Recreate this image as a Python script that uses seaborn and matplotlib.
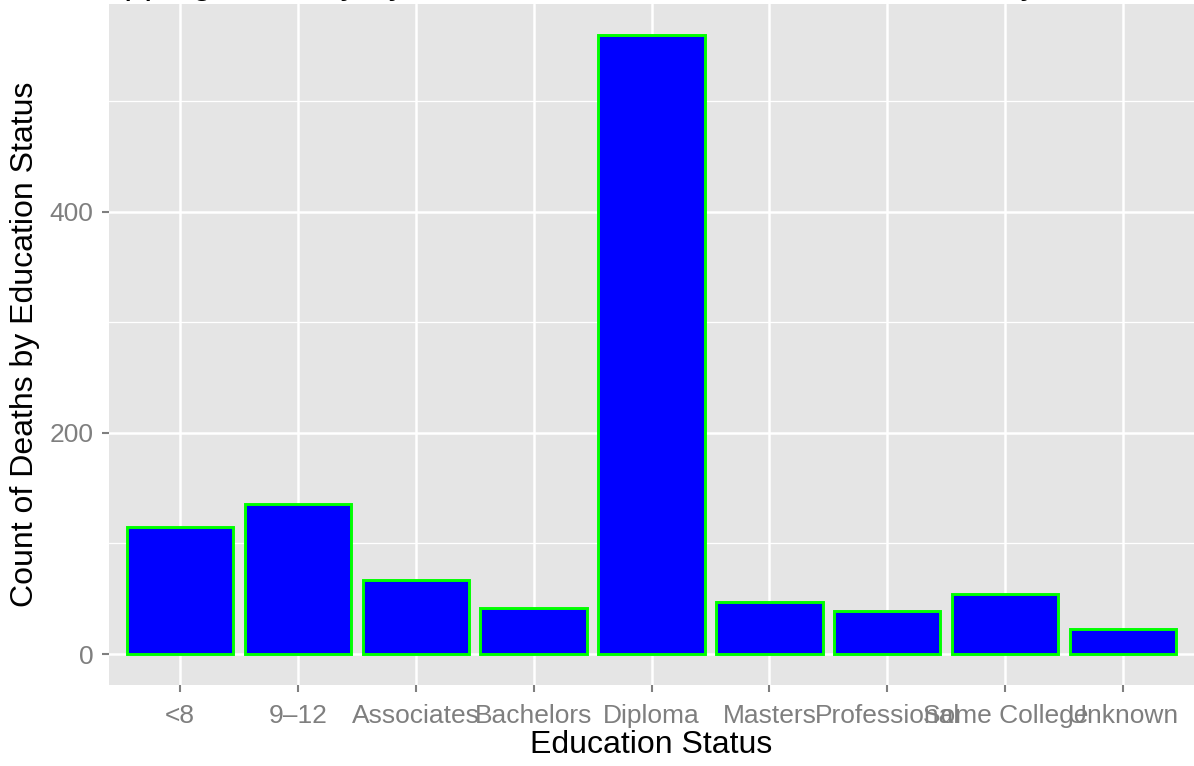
import numpy as np
import pandas as pd
import seaborn as sns
import matplotlib.pyplot as plt
from matplotlib.ticker import MultipleLocator

# counts
education = ["<8", "9\u201312", "Associates", "Bachelors", "Diploma",
             "Masters", "Professional", "Some College", "Unknown"]
deaths = [115, 136, 67, 42, 560, 47, 39, 54, 23]

title = "Mapping Mortality by Education Status: Overdose Deaths by Year"
xlabel = "Education Status"
ylabel = "Count of Deaths by Education Status"

df = pd.DataFrame({"education": education, "deaths": deaths})

sns.set_style("darkgrid")
plt.rcParams["font.family"] = ["Liberation Sans", "DejaVu Sans"]

fig = plt.figure(figsize=(11.94, 7.66), dpi=100)
ax = fig.add_axes([109 / 1194, 81 / 766, 1085 / 1194, 681 / 766])
ax.set_facecolor("#E5E5E5")

sns.barplot(data=df, x="education", y="deaths", order=education,
            color="#0000FF", saturation=1, edgecolor="#00FF00",
            linewidth=2.1, width=0.9, ax=ax, zorder=3)

ax.set_xlim(-0.6, len(education) - 0.4)
ax.set_ylim(-28, 588)
ax.yaxis.set_major_locator(MultipleLocator(200))
ax.yaxis.set_minor_locator(MultipleLocator(100))

ax.grid(which="major", color="white", linewidth=1.8, zorder=0)
ax.grid(which="minor", axis="y", color="white", linewidth=0.9, zorder=0)
ax.set_axisbelow(True)
for s in ax.spines.values():
    s.set_visible(False)

ax.tick_params(axis="both", which="major", length=5, width=1.5,
               color="#7F7F7F", labelcolor="#7F7F7F", labelsize=19,
               direction="out", bottom=True, left=True)
ax.tick_params(axis="x", which="major", pad=9)
ax.tick_params(axis="y", which="major", pad=6)
ax.tick_params(axis="both", which="minor", length=0)

ax.set_xlabel(xlabel, fontsize=23, color="black", labelpad=1)
ax.set_ylabel(ylabel, fontsize=23, color="black", labelpad=7)

# title sits mostly above the canvas, as in the reference
fig.text(0.5, 1 + 7.3 / 766, title, ha="center", va="baseline",
         fontsize=26, color="black")

fig.savefig("out.png", dpi=100)
